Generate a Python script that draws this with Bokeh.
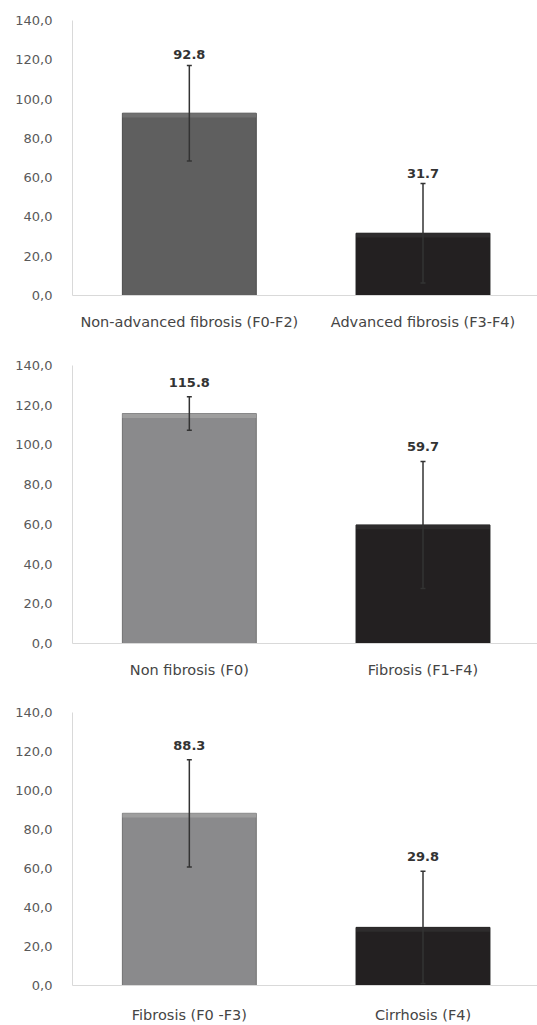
from bokeh.plotting import figure
from bokeh.models import Range1d, FixedTicker, ColumnDataSource, Whisker, TeeHead
from bokeh.layouts import column
from bokeh.embed import file_html
from bokeh.resources import INLINE
from bokeh.core.properties import value

# ---- data ----
p1_categories = ["Non-advanced fibrosis (F0-F2)", "Advanced fibrosis (F3-F4)"]
p1_means = [92.8, 31.7]
p1_sds = [24.3, 25.3]

p2_categories = ["Non fibrosis (F0)", "Fibrosis (F1-F4)"]
p2_means = [115.8, 59.7]
p2_sds = [8.4, 32.0]

p3_categories = ["Fibrosis (F0 -F3)", "Cirrhosis (F4)"]
p3_means = [88.3, 29.8]
p3_sds = [27.5, 28.8]

y_ticks = [0, 20, 40, 60, 80, 100, 120, 140]
y_tick_labels = ["0,0", "20,0", "40,0", "60,0", "80,0", "100,0", "120,0", "140,0"]

FONT = "DejaVu Sans"


def make_panel(cats, means, sds, fills, tops, edges, height, btop, bbot, label_off, xstand):
    xs = [i + 0.5 for i in range(len(cats))]
    src = ColumnDataSource(dict(
        x=xs, top=means, band=[m - 2.2 for m in means],
        upper=[m + s for m, s in zip(means, sds)],
        lower=[m - s for m, s in zip(means, sds)],
        label=[f"{m:.1f}" for m in means],
        fill=fills, topc=tops, edge=edges,
    ))
    p = figure(width=537, height=height, output_backend="svg", toolbar_location=None,
               x_range=Range1d(0, 1.99), y_range=Range1d(0, 140),
               min_border_left=72, min_border_right=0,
               min_border_top=btop, min_border_bottom=bbot)
    p.outline_line_color = None
    p.grid.visible = False
    p.background_fill_color = "white"

    p.vbar(x="x", width=0.573, top="top", bottom=0, source=src,
           fill_color="fill", line_color="edge", line_width=1)
    p.vbar(x="x", width=0.573, top="top", bottom="band", source=src,
           fill_color="topc", line_color=None)

    w = Whisker(base="x", upper="upper", lower="lower", source=src,
                line_color="#333333", line_width=1.5, level="overlay",
                upper_head=TeeHead(size=5, line_color="#333333", line_width=1.5),
                lower_head=TeeHead(size=5, line_color="#333333", line_width=1.5))
    p.add_layout(w)

    p.text(x="x", y="upper", text="label", source=src, text_align="center",
           text_baseline="bottom", y_offset=label_off, text_font=value(FONT),
           text_font_style="bold", text_font_size="13px", text_color="#333333")

    p.yaxis.ticker = FixedTicker(ticks=y_ticks)
    p.yaxis.major_label_overrides = {t: l for t, l in zip(y_ticks, y_tick_labels)}
    p.yaxis.axis_line_color = "#d9d9d9"
    p.yaxis.major_tick_line_color = None
    p.yaxis.minor_tick_line_color = None
    p.yaxis.major_label_standoff = 14
    p.yaxis.major_label_text_font = FONT
    p.yaxis.major_label_text_font_size = "13px"
    p.yaxis.major_label_text_color = "#595959"

    p.xaxis.ticker = FixedTicker(ticks=xs)
    p.xaxis.major_label_overrides = {x: c for x, c in zip(xs, cats)}
    p.xaxis.axis_line_color = "#d9d9d9"
    p.xaxis.major_tick_line_color = None
    p.xaxis.minor_tick_line_color = None
    p.xaxis.major_label_standoff = xstand
    p.xaxis.major_label_text_font = FONT
    p.xaxis.major_label_text_font_size = "14.5px"
    p.xaxis.major_label_text_color = "#454545"
    return p


f1 = make_panel(p1_categories, p1_means, p1_sds,
                ["#5f5f5f", "#232021"], ["#707070", "#2e2c2d"], ["#4a4a4a", "#1a1a1a"],
                338, 20, 43, -6, 12)
f2 = make_panel(p2_categories, p2_means, p2_sds,
                ["#8a8a8c", "#232021"], ["#9e9e9e", "#2e2c2d"], ["#707070", "#1a1a1a"],
                350, 27, 45, -10, 12)
f3 = make_panel(p3_categories, p3_means, p3_sds,
                ["#8a8a8c", "#232021"], ["#9e9e9e", "#2e2c2d"], ["#707070", "#1a1a1a"],
                337, 24, 36, -10, 15)

layout = column(f1, f2, f3, spacing=0)
open("out.html", "w").write(file_html(layout, INLINE))
